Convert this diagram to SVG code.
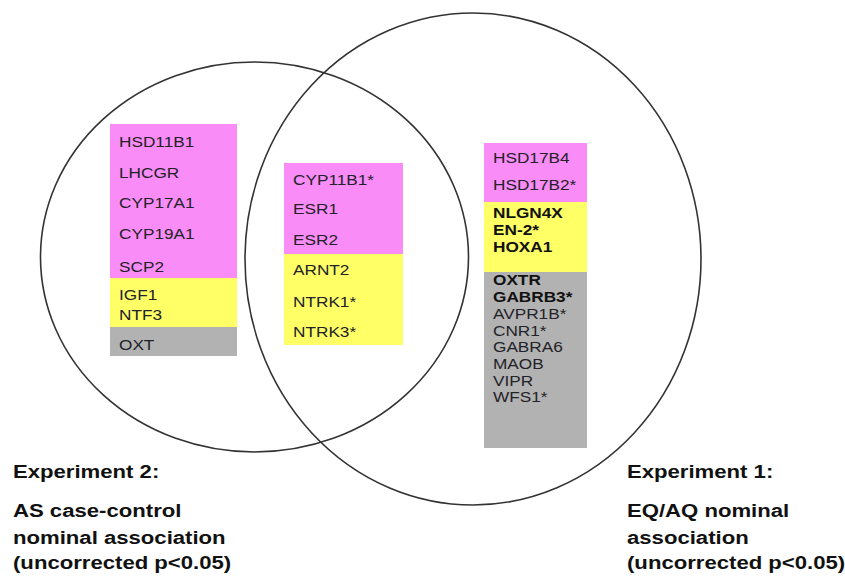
<svg xmlns="http://www.w3.org/2000/svg" width="845" height="577" viewBox="0 0 845 577">
<style>
.bg{fill:#ffffff}
.ring{fill:none;stroke:#333333;stroke-width:1.6}
.pink{fill:#f98cf7}
.yel{fill:#ffff66}
.gray{fill:#b2b2b2}
.g{font-family:"Liberation Sans",Arial,sans-serif;font-size:14px;fill:#222228}
.b{font-weight:bold;fill:#111111}
.lab{font-family:"Liberation Sans",Arial,sans-serif;font-size:18px;font-weight:bold;fill:#111111}
</style>
<rect class="bg" x="0" y="0" width="845" height="577"/>
<g id="connectors">
<ellipse id="set-exp2" class="ring" cx="254.5" cy="257" rx="214" ry="195"/>
<ellipse id="set-exp1" class="ring" cx="473" cy="259" rx="228" ry="246"/>
</g>
<g id="box-exp2-only">
<rect class="pink" x="110" y="124" width="127" height="154"/>
<rect class="yel" x="110" y="278" width="127" height="49"/>
<rect class="gray" x="110" y="327" width="127" height="29"/>
<text class="g" transform="translate(119,147) scale(1.23,1)">HSD11B1</text>
<text class="g" transform="translate(119,178) scale(1.23,1)">LHCGR</text>
<text class="g" transform="translate(119,208) scale(1.23,1)">CYP17A1</text>
<text class="g" transform="translate(119,239) scale(1.23,1)">CYP19A1</text>
<text class="g" transform="translate(119,272) scale(1.23,1)">SCP2</text>
<text class="g" transform="translate(119,300) scale(1.23,1)">IGF1</text>
<text class="g" transform="translate(119,320) scale(1.23,1)">NTF3</text>
<text class="g" transform="translate(119,350) scale(1.23,1)">OXT</text>
</g>
<g id="box-both">
<rect class="pink" x="284" y="163" width="119" height="91"/>
<rect class="yel" x="284" y="254" width="119" height="91"/>
<text class="g" transform="translate(293,185) scale(1.23,1)">CYP11B1*</text>
<text class="g" transform="translate(293,214) scale(1.23,1)">ESR1</text>
<text class="g" transform="translate(293,245) scale(1.23,1)">ESR2</text>
<text class="g" transform="translate(293,275) scale(1.23,1)">ARNT2</text>
<text class="g" transform="translate(293,307) scale(1.23,1)">NTRK1*</text>
<text class="g" transform="translate(293,337) scale(1.23,1)">NTRK3*</text>
</g>
<g id="box-exp1-only">
<rect class="pink" x="484" y="143" width="103" height="59"/>
<rect class="yel" x="484" y="202" width="103" height="70"/>
<rect class="gray" x="484" y="272" width="103" height="176"/>
<text class="g" transform="translate(493,163) scale(1.23,1)">HSD17B4</text>
<text class="g" transform="translate(493,190) scale(1.23,1)">HSD17B2*</text>
<text class="g b" transform="translate(493,218) scale(1.23,1)">NLGN4X</text>
<text class="g b" transform="translate(493,235) scale(1.23,1)">EN-2*</text>
<text class="g b" transform="translate(493,252) scale(1.23,1)">HOXA1</text>
<text class="g b" transform="translate(493,285) scale(1.23,1)">OXTR</text>
<text class="g b" transform="translate(493,302) scale(1.23,1)">GABRB3*</text>
<text class="g" transform="translate(493,319) scale(1.23,1)">AVPR1B*</text>
<text class="g" transform="translate(493,336) scale(1.23,1)">CNR1*</text>
<text class="g" transform="translate(493,352) scale(1.23,1)">GABRA6</text>
<text class="g" transform="translate(493,369) scale(1.23,1)">MAOB</text>
<text class="g" transform="translate(493,386) scale(1.23,1)">VIPR</text>
<text class="g" transform="translate(493,402) scale(1.23,1)">WFS1*</text>
</g>
<g id="label-exp2">
<text class="lab" transform="translate(13,478) scale(1.23,1)">Experiment 2:</text>
<text class="lab" transform="translate(13,517) scale(1.23,1)">AS case-control</text>
<text class="lab" transform="translate(13,544) scale(1.23,1)">nominal association</text>
<text class="lab" transform="translate(13,569) scale(1.23,1)">(uncorrected p&lt;0.05)</text>
</g>
<g id="label-exp1">
<text class="lab" transform="translate(627,478) scale(1.23,1)">Experiment 1:</text>
<text class="lab" transform="translate(627,517) scale(1.23,1)">EQ/AQ nominal</text>
<text class="lab" transform="translate(627,544) scale(1.23,1)">association</text>
<text class="lab" transform="translate(627,569) scale(1.23,1)">(uncorrected p&lt;0.05)</text>
</g>
</svg>
